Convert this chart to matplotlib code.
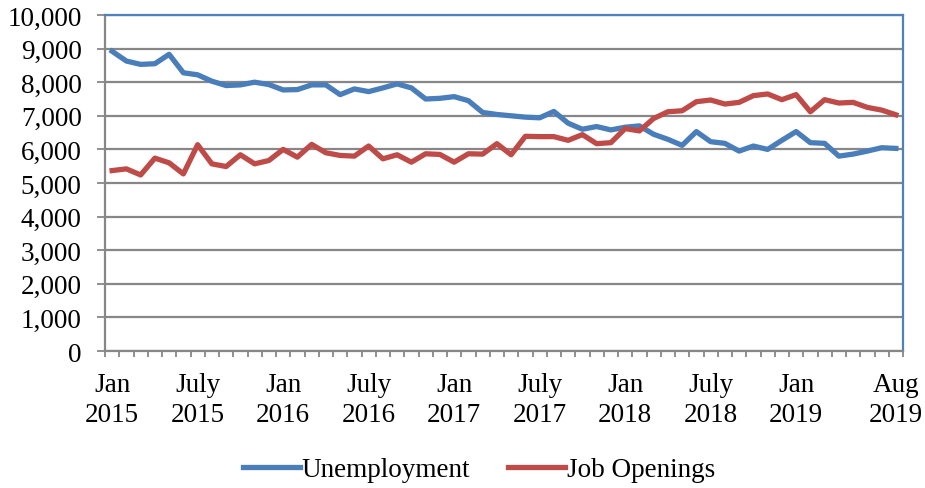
import numpy as np
import matplotlib
matplotlib.use("Agg")
import matplotlib.pyplot as plt
from matplotlib.ticker import FuncFormatter, FixedLocator

# monthly values, Jan 2015 - Aug 2019 (thousands)
unemployment = [8920, 8630, 8530, 8550, 8830, 8280, 8220, 8030, 7900, 7920,
                8000, 7930, 7770, 7780, 7920, 7920, 7630, 7800, 7720, 7830,
                7950, 7830, 7500, 7520, 7570, 7450, 7100, 7040, 7000, 6960,
                6940, 7130, 6780, 6600, 6680, 6580, 6660, 6700, 6450, 6300,
                6120, 6530, 6230, 6180, 5950, 6100, 6000, 6270, 6530, 6200,
                6180, 5800, 5860, 5950, 6050, 6030]
job_openings = [5370, 5420, 5240, 5740, 5600, 5270, 6140, 5570, 5490, 5840,
                5570, 5670, 6000, 5770, 6150, 5900, 5820, 5800, 6100, 5720,
                5840, 5620, 5870, 5850, 5620, 5870, 5860, 6170, 5840, 6390,
                6380, 6380, 6270, 6440, 6170, 6200, 6620, 6550, 6920, 7120,
                7150, 7420, 7470, 7350, 7400, 7600, 7650, 7480, 7630, 7120,
                7480, 7380, 7400, 7250, 7170, 7030]
label_pos = [0, 6, 12, 18, 24, 30, 36, 42, 48, 55]
label_txt = ["Jan\n2015", "July\n2015", "Jan\n2016", "July\n2016", "Jan\n2017",
             "July\n2017", "Jan\n2018", "July\n2018", "Jan\n2019", "Aug\n2019"]

plt.rcParams['font.family'] = ['Liberation Serif', 'DejaVu Serif']
FS = 19.5

fig = plt.figure(figsize=(9.25, 4.89), dpi=100)
ax = fig.add_axes([105/925, 1-352/489, 798/925, 336/489])

x = np.arange(len(unemployment))
ax.plot(x, unemployment, color='#4a7ebb', lw=3.8, solid_joinstyle='round', label='Unemployment')
ax.plot(x, job_openings, color='#be4b48', lw=3.8, solid_joinstyle='round', label='Job Openings')

ax.set_xlim(-0.5, len(x) - 0.5)
ax.set_ylim(0, 10000)
ax.set_yticks(np.arange(0, 10001, 1000))
ax.yaxis.set_major_formatter(FuncFormatter(lambda v, p: f"{int(v):,}"))
ax.grid(axis='y', color='#878787', lw=1.6)
ax.set_axisbelow(True)

# category ticks between months, labels at month centres
ax.xaxis.set_major_locator(FixedLocator(np.arange(-0.5, len(x), 1.0)))
ax.set_xticklabels([])
ax.set_xticks(label_pos, minor=True)
ax.set_xticklabels(label_txt, minor=True, fontsize=FS, linespacing=1.27)
ax.tick_params(axis='x', which='major', length=4.3, width=1.3, color='#878787', direction='out')
ax.tick_params(axis='x', which='minor', length=0, pad=15)
ax.tick_params(axis='y', length=5.8, width=1.3, color='#878787', labelsize=FS, pad=11)

for s in ['left', 'bottom']:
    ax.spines[s].set_color('#878787')
    ax.spines[s].set_linewidth(1.6)
for s in ['top', 'right']:
    ax.spines[s].set_color('#4f81bd')
    ax.spines[s].set_linewidth(1.6)

fig.legend(loc='lower center', bbox_to_anchor=(0.518, -0.038), ncol=2, frameon=False,
           fontsize=FS, handlelength=2.1, handletextpad=0.08, columnspacing=1.4)

fig.savefig("out.png", dpi=100)
